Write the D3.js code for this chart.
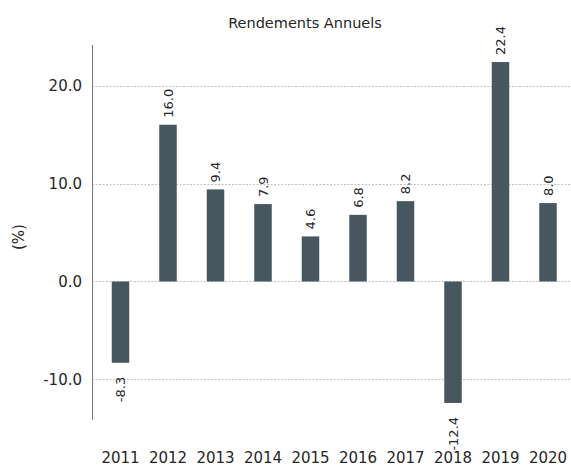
<!DOCTYPE html>
<html><head><meta charset="utf-8">
<script src="https://cdn.jsdelivr.net/npm/d3@7"></script>
<style>body{margin:0;background:#fff}svg{display:block}text{font-family:"DejaVu Sans",sans-serif;fill:#262626}</style>
</head><body><svg id="c" width="571" height="466"></svg>
<script>
const years = ["2011","2012","2013","2014","2015","2016","2017","2018","2019","2020"];
const returns = [-8.3,16.0,9.4,7.9,4.6,6.8,8.2,-12.4,22.4,8.0];
const yTicks = [-10,0,10,20];
const title = "Rendements Annuels";
const yLabel = "(%)";

(function(){
const svg = d3.select("#c");
const mL = 92, mR = 576.5, mT = 45, mB = 420;
const ymin = d3.min(returns), ymax = d3.max(returns), pad = (ymax - ymin) * 0.05;
const y = d3.scaleLinear().domain([ymin - pad, ymax + pad]).range([mB, mT]);
const x = d3.scaleBand().domain(years).range([mL, mR]).paddingInner(0.632).paddingOuter(0.416);
const xc = d => x(d) + x.bandwidth() / 2;
const fmt = d => d.toFixed(1);

// gridlines
svg.append("g").selectAll("line").data(yTicks).join("line")
  .attr("x1", mL).attr("x2", 571).attr("y1", d => Math.round(y(d)) + 0.5).attr("y2", d => Math.round(y(d)) + 0.5)
  .attr("stroke", "#b0b0b0").attr("stroke-width", 0.8).attr("stroke-dasharray", "2,1.5");

// bars
svg.append("g").selectAll("rect").data(returns).join("rect")
  .attr("x", (d, i) => x(years[i])).attr("width", x.bandwidth())
  .attr("y", d => y(Math.max(0, d))).attr("height", d => Math.abs(y(d) - y(0)))
  .attr("fill", "#47565f");

// value labels
svg.append("g").selectAll("text").data(returns).join("text")
  .attr("transform", (d, i) => {
    const cx = xc(years[i]);
    const cy = d >= 0 ? y(d) - 7 : y(d) + 14;
    return `translate(${cx},${cy}) rotate(-90)`;
  })
  .attr("text-anchor", d => d >= 0 ? "start" : "end")
  .attr("dy", "0.35em")
  .attr("font-size", 13)
  .text(fmt);

// y axis
const yAxis = d3.axisLeft(y).tickValues(yTicks).tickFormat(fmt).tickSize(0).tickPadding(10);
const ga = svg.append("g").attr("transform", `translate(${mL},0)`).call(yAxis);
ga.select(".domain").attr("stroke", "#7a7a7a").attr("stroke-width", 1).attr("d", `M0.5,${mT}V${mB}`);
ga.selectAll("text").attr("font-size", 15).attr("fill", "#262626").attr("font-family", "DejaVu Sans");

// x axis labels
const xAxis = d3.axisBottom(x).tickSize(0).tickPadding(0);
const gx = svg.append("g").attr("transform", `translate(0,${mB + 32})`).call(xAxis);
gx.select(".domain").remove();
gx.selectAll("text").attr("font-size", 15).attr("fill", "#262626").attr("font-family", "DejaVu Sans");

// title
svg.append("text").attr("x", 305).attr("y", 28).attr("text-anchor", "middle").attr("font-size", 14.5).text(title);
// y label
svg.append("text").attr("transform", `translate(24,237) rotate(-90)`).attr("text-anchor", "middle").attr("font-size", 15).text(yLabel);
})();
</script></body></html>
